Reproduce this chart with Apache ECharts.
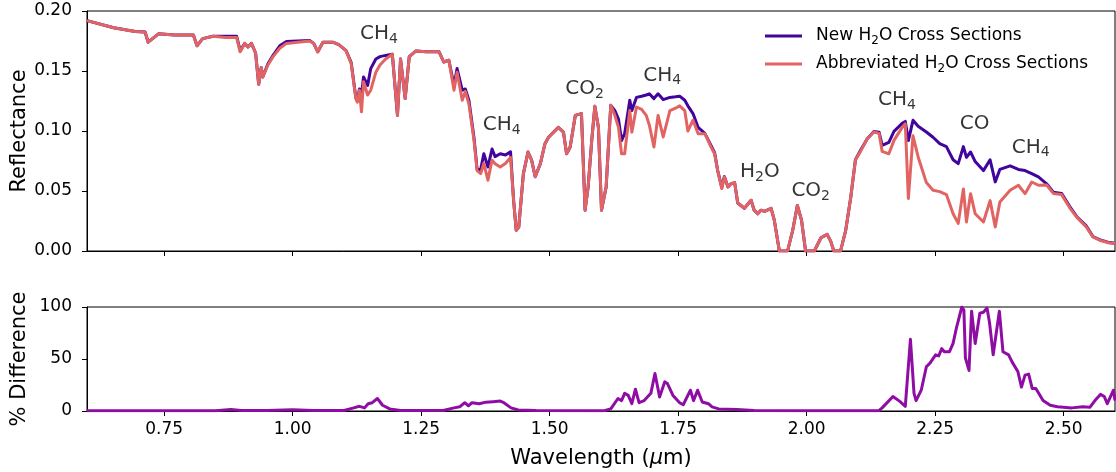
<!DOCTYPE html>
<html>
<head>
<meta charset="utf-8">
<script src="https://cdn.jsdelivr.net/npm/echarts@6/dist/echarts.min.js"></script>
<style>html,body{margin:0;padding:0;background:#fff}#c{width:1116px;height:472px}</style>
</head>
<body>
<div id="c"></div>
<script>
// Wavelength grid (µm) shared by both reflectance spectra
const wl = [0.600,0.652,0.694,0.713,0.719,0.739,0.770,0.807,0.814,0.825,0.845,0.870,0.891,0.898,0.907,0.913,0.920,0.928,0.934,0.939,0.942,0.952,0.962,0.975,0.988,1.010,1.033,1.041,1.049,1.059,1.078,1.090,1.104,1.114,1.123,1.126,1.130,1.134,1.138,1.146,1.152,1.162,1.170,1.181,1.194,1.204,1.210,1.219,1.227,1.240,1.260,1.285,1.294,1.304,1.314,1.320,1.330,1.336,1.343,1.353,1.359,1.366,1.372,1.380,1.388,1.394,1.404,1.414,1.424,1.430,1.435,1.440,1.449,1.458,1.465,1.472,1.482,1.491,1.498,1.517,1.527,1.533,1.540,1.550,1.562,1.569,1.575,1.582,1.588,1.595,1.601,1.610,1.619,1.627,1.634,1.640,1.646,1.656,1.660,1.669,1.679,1.688,1.694,1.703,1.711,1.721,1.734,1.745,1.753,1.763,1.769,1.779,1.789,1.802,1.814,1.821,1.827,1.835,1.840,1.847,1.853,1.860,1.866,1.879,1.892,1.898,1.905,1.911,1.918,1.931,1.937,1.947,1.963,1.973,1.982,1.990,1.998,2.015,2.028,2.040,2.047,2.053,2.066,2.076,2.086,2.095,2.105,2.118,2.131,2.141,2.147,2.160,2.170,2.186,2.192,2.198,2.207,2.217,2.233,2.246,2.259,2.272,2.285,2.295,2.305,2.311,2.319,2.328,2.344,2.357,2.367,2.376,2.396,2.412,2.425,2.438,2.451,2.467,2.480,2.496,2.512,2.525,2.544,2.557,2.570,2.589,2.600];
// Reflectance, abbreviated H2O cross sections
const abbR = [0.192,0.186,0.183,0.1825,0.174,0.181,0.180,0.180,0.171,0.177,0.179,0.178,0.178,0.166,0.173,0.170,0.173,0.165,0.139,0.153,0.145,0.155,0.162,0.169,0.173,0.174,0.175,0.173,0.166,0.174,0.174,0.172,0.167,0.156,0.127,0.124,0.134,0.116,0.141,0.130,0.134,0.149,0.155,0.160,0.164,0.113,0.160,0.127,0.162,0.1667,0.166,0.166,0.1575,0.159,0.134,0.149,0.1256,0.133,0.1225,0.092,0.067,0.0645,0.073,0.059,0.0757,0.0728,0.070,0.073,0.078,0.042,0.0173,0.020,0.0645,0.0825,0.0757,0.0619,0.0728,0.0894,0.0948,0.103,0.099,0.081,0.0867,0.113,0.1145,0.034,0.0534,0.0922,0.1206,0.103,0.034,0.0534,0.1214,0.113,0.103,0.081,0.081,0.117,0.099,0.120,0.118,0.113,0.105,0.0867,0.113,0.095,0.117,0.119,0.121,0.117,0.100,0.109,0.0978,0.0978,0.0867,0.081,0.067,0.052,0.0617,0.0534,0.056,0.057,0.040,0.0356,0.0423,0.034,0.031,0.034,0.033,0.0356,0.026,0,0,0.0173,0.038,0.026,0,0,0.011,0.0139,0.008,0,0,0.017,0.045,0.076,0.083,0.0935,0.0992,0.098,0.083,0.081,0.0922,0.103,0.106,0.0437,0.096,0.0784,0.057,0.0506,0.0495,0.047,0.031,0.023,0.0517,0.0242,0.0478,0.031,0.0242,0.042,0.0201,0.0409,0.0506,0.0548,0.0478,0.0575,0.0548,0.055,0.048,0.047,0.036,0.0284,0.0201,0.0117,0.009,0.0067,0.0065];
// Reflectance, new H2O cross sections
const newR = [0.192,0.186,0.183,0.1825,0.174,0.181,0.180,0.180,0.171,0.177,0.179,0.179,0.179,0.167,0.173,0.170,0.173,0.165,0.139,0.153,0.145,0.156,0.163,0.171,0.1745,0.175,0.1755,0.173,0.166,0.174,0.174,0.172,0.167,0.157,0.128,0.125,0.135,0.130,0.145,0.138,0.152,0.160,0.162,0.163,0.164,0.113,0.160,0.127,0.162,0.1667,0.166,0.166,0.1575,0.159,0.138,0.152,0.134,0.135,0.1256,0.094,0.068,0.068,0.081,0.070,0.085,0.0786,0.081,0.080,0.0826,0.042,0.0173,0.020,0.0645,0.0825,0.0757,0.0619,0.0728,0.0894,0.0948,0.103,0.099,0.081,0.0867,0.113,0.1145,0.034,0.0534,0.0922,0.1206,0.103,0.034,0.0534,0.1214,0.117,0.110,0.092,0.0978,0.1256,0.117,0.128,0.129,0.130,0.131,0.127,0.131,0.1262,0.128,0.1285,0.129,0.1256,0.121,0.1145,0.103,0.098,0.088,0.082,0.067,0.053,0.062,0.0534,0.056,0.057,0.040,0.0356,0.0423,0.034,0.031,0.034,0.033,0.0356,0.026,0,0,0.0173,0.038,0.026,0,0,0.011,0.0139,0.008,0,0,0.017,0.045,0.076,0.084,0.0935,0.0995,0.099,0.088,0.0906,0.0997,0.1064,0.108,0.092,0.1089,0.104,0.0992,0.0948,0.0895,0.087,0.076,0.0728,0.087,0.078,0.0825,0.0745,0.067,0.076,0.0576,0.068,0.071,0.068,0.067,0.0645,0.0617,0.056,0.049,0.048,0.037,0.029,0.021,0.012,0.0095,0.007,0.0065];
// Percent difference
const diffWl = [0.60,0.85,0.88,0.90,0.95,1.00,1.04,1.10,1.119,1.13,1.14,1.147,1.155,1.165,1.175,1.189,1.21,1.293,1.314,1.325,1.335,1.342,1.349,1.363,1.376,1.390,1.404,1.411,1.425,1.439,1.474,1.60,1.608,1.619,1.633,1.640,1.646,1.653,1.660,1.667,1.674,1.684,1.697,1.705,1.714,1.724,1.729,1.740,1.753,1.760,1.774,1.780,1.788,1.797,1.809,1.816,1.829,1.864,1.898,2.0,2.14,2.147,2.168,2.182,2.192,2.202,2.209,2.213,2.223,2.233,2.240,2.251,2.257,2.263,2.268,2.278,2.285,2.292,2.302,2.306,2.309,2.316,2.321,2.328,2.337,2.344,2.351,2.356,2.363,2.368,2.375,2.382,2.393,2.400,2.411,2.418,2.425,2.432,2.439,2.446,2.460,2.474,2.488,2.516,2.537,2.551,2.561,2.572,2.579,2.585,2.597,2.600];
const diffVal = [0.3,0.3,1.5,0.5,0.5,1.2,0.5,0.5,3,4.5,3,7,8,12,5.5,2,0.5,0.5,3,4,8,5,8,7,8.5,9,9.5,8,3,1,0.5,0.3,0.5,2,12,10,17,15,7,21,8,10,17,36,13.5,28,26.5,15,8,6,20,10,20,8.7,7,4,2,1.5,0.5,0.3,0.2,3,14,9,4.5,69,17,10,20,42.5,46,54,53,60,57,57,65,81,100,97,51,39,96,65,94,95,99,84.5,54,71.6,96,57,54,47,38,23,34.5,35.5,21.6,21.6,10,5.5,4,3,4,3.5,10,16,14,7,20,10];
// Axis ticks
const xTicks = [0.75,1.00,1.25,1.50,1.75,2.00,2.25,2.50];
// Annotations
const annotText = ['CH4','CH4','CO2','CH4','H2O','CO2','CH4','CO','CH4'];
const annotX = [1.168,1.407,1.568,1.719,1.909,2.008,2.176,2.327,2.436];
const annotY = [0.1806,0.1048,0.1348,0.146,0.0656,0.0498,0.1256,0.1064,0.0864];
const seriesNames = ['New H2O Cross Sections','Abbreviated H2O Cross Sections'];

const FONT = 'DejaVu Sans';
const subify = s => s.replace(/(\d)/g, '{s|$1}');
const chart = echarts.init(document.getElementById('c'), null, {renderer: 'canvas'});
const axisLineStyle = {color: '#000', width: 1};
const xAxisBase = {
  type: 'value', min: 0.6, max: 2.6,
  axisLine: {show: true, onZero: false, lineStyle: axisLineStyle},
  axisTick: {show: true, inside: false, length: 5, customValues: xTicks, lineStyle: axisLineStyle},
  splitLine: {show: false}
};
chart.setOption({
  animation: false,
  textStyle: {fontFamily: FONT},
  grid: [
    {left: 87, width: 1028, top: 11, height: 240, show: true, borderColor: '#000', borderWidth: 1, containLabel: false, outerBoundsMode: 'none'},
    {left: 87, width: 1028, top: 307, height: 104, show: true, borderColor: '#000', borderWidth: 1, containLabel: false, outerBoundsMode: 'none'}
  ],
  xAxis: [
    Object.assign({gridIndex: 0, axisLabel: {show: false}}, xAxisBase),
    Object.assign({gridIndex: 1,
      axisLabel: {show: true, customValues: xTicks, formatter: v => v.toFixed(2), color: '#000', fontSize: 17, fontFamily: FONT, margin: 10},
      name: 'Wavelength ({i|μ}m)', nameLocation: 'middle', nameGap: 37, nameMoveOverlap: false,
      nameTextStyle: {fontSize: 21, color: '#000', fontFamily: FONT, rich: {i: {fontSize: 21, fontStyle: 'italic', fontFamily: FONT, color: '#000'}}}
    }, xAxisBase)
  ],
  yAxis: [
    {gridIndex: 0, type: 'value', min: 0, max: 0.2, interval: 0.05,
      axisLine: {show: true, lineStyle: axisLineStyle},
      axisTick: {show: true, inside: false, length: 5, lineStyle: axisLineStyle},
      axisLabel: {formatter: v => v.toFixed(2), color: '#000', fontSize: 17, fontFamily: FONT, margin: 15},
      splitLine: {show: false},
      name: 'Reflectance', nameLocation: 'middle', nameGap: 57, nameRotate: 90, nameMoveOverlap: false,
      nameTextStyle: {fontSize: 21, color: '#000', fontFamily: FONT}},
    {gridIndex: 1, type: 'value', min: 0, max: 100, interval: 50,
      axisLine: {show: true, lineStyle: axisLineStyle},
      axisTick: {show: true, inside: false, length: 5, lineStyle: axisLineStyle},
      axisLabel: {color: '#000', fontSize: 17, fontFamily: FONT, margin: 15},
      splitLine: {show: false},
      name: '% Difference', nameLocation: 'middle', nameGap: 57, nameRotate: 90, nameMoveOverlap: false,
      nameTextStyle: {fontSize: 21, color: '#000', fontFamily: FONT}}
  ],
  legend: {
    data: seriesNames, orient: 'vertical', left: 760, top: 20, itemGap: 6,
    icon: 'rect', itemWidth: 37, itemHeight: 3,
    formatter: n => n.replace('H2O', 'H{s|2}O'),
    textStyle: {fontSize: 17, color: '#000', fontFamily: FONT, lineHeight: 22, padding: [0, 0, 0, 9],
      rich: {s: {fontSize: 12, lineHeight: 12, verticalAlign: 'bottom', fontFamily: FONT, color: '#000'}}}
  },
  series: [
    {name: seriesNames[0], type: 'line', xAxisIndex: 0, yAxisIndex: 0, showSymbol: false, symbol: 'none',
      data: wl.map((x, i) => [x, newR[i]]), lineStyle: {color: '#41049d', width: 3, join: 'round'}, itemStyle: {color: '#41049d'}},
    {name: seriesNames[1], type: 'line', xAxisIndex: 0, yAxisIndex: 0, showSymbol: false, symbol: 'none',
      data: wl.map((x, i) => [x, abbR[i]]), lineStyle: {color: '#e16462', width: 3, join: 'round'}, itemStyle: {color: '#e16462'}},
    {name: 'diff', type: 'line', xAxisIndex: 1, yAxisIndex: 1, showSymbol: false, symbol: 'none',
      data: diffWl.map((x, i) => [x, diffVal[i]]), lineStyle: {color: '#8f0da4', width: 3, join: 'round'}, itemStyle: {color: '#8f0da4'}},
    {name: 'annotations', type: 'scatter', xAxisIndex: 0, yAxisIndex: 0, symbolSize: 1, silent: true,
      itemStyle: {color: 'rgba(0,0,0,0)'},
      data: annotX.map((x, i) => ({name: annotText[i], value: [x, annotY[i]]})),
      label: {show: true, position: 'inside', formatter: p => subify(p.name), fontSize: 20, lineHeight: 24, color: '#000', fontFamily: FONT, textBorderWidth: 0,
        rich: {s: {fontSize: 14, lineHeight: 14, verticalAlign: 'bottom', fontFamily: FONT, color: '#000', textBorderWidth: 0}}}}
  ]
});
</script>
</body>
</html>
